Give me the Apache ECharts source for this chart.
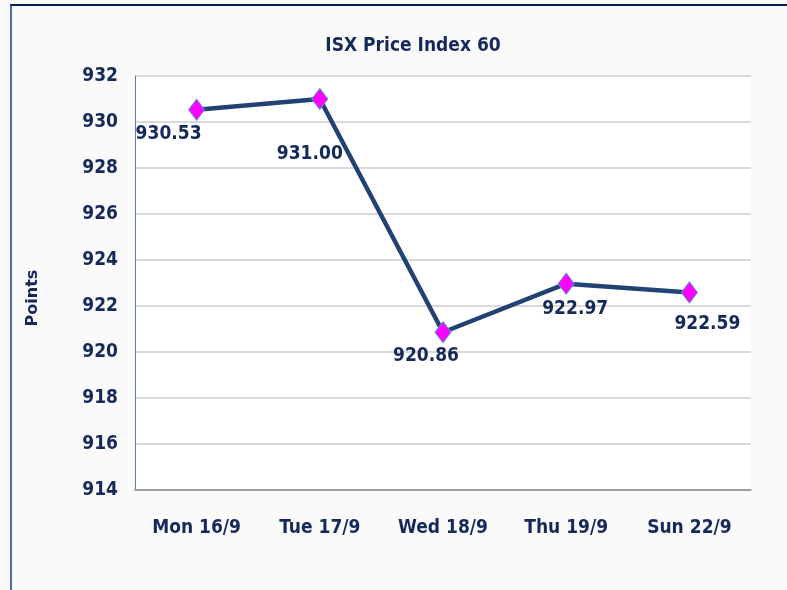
<!DOCTYPE html>
<html>
<head>
<meta charset="utf-8">
<script src="https://cdn.jsdelivr.net/npm/echarts@6/dist/echarts.min.js"></script>
<style>
  html, body { margin: 0; padding: 0; background: #fafafa; }
  #chart { width: 787px; height: 590px; }
</style>
</head>
<body>
<div id="chart"></div>
<script>
const categories = ["Mon 16/9", "Tue 17/9", "Wed 18/9", "Thu 19/9", "Sun 22/9"]
const values = [930.53, 931.0, 920.86, 922.97, 922.59]
// where each value label sits relative to its point
const labelOffsets = [[-28, 24], [-10, 55], [-17, 24], [9, 25], [18, 32]]

const navy = "#15295a"
const font = "'DejaVu Sans Condensed', 'Liberation Sans Narrow', sans-serif"

const chart = echarts.init(document.getElementById("chart"), null, { renderer: "canvas" })

const option = {
    backgroundColor: "#fafafa",
    animation: false,
    title: {
        text: "ISX Price Index 60",
        left: 408,
        top: 32,
        textAlign: "center",
        textStyle: { color: navy, fontFamily: font, fontSize: 19, fontWeight: "bold" },
    },
    graphic: [
        { type: "line", shape: { x1: 10, y1: 5, x2: 787, y2: 5 }, style: { stroke: "#0b1f5c", lineWidth: 2 } },
        { type: "line", shape: { x1: 11, y1: 4, x2: 11, y2: 590 }, style: { stroke: "#1c3a8a", lineWidth: 1.5 } },
    ],
    grid: {
        left: 135,
        top: 76,
        right: 36,
        bottom: 100,
        show: true,
        backgroundColor: "#ffffff",
        borderWidth: 0,
    },
    xAxis: {
        type: "category",
        data: categories,
        boundaryGap: true,
        axisLine: { lineStyle: { color: "#8c8c8c", width: 1.5 } },
        axisTick: { show: false },
        axisLabel: {
            color: navy,
            fontFamily: font,
            fontSize: 19,
            fontWeight: "bold",
            margin: 29,
        },
    },
    yAxis: {
        type: "value",
        min: 914,
        max: 932,
        interval: 2,
        name: "Points",
        nameLocation: "middle",
        nameRotate: 90,
        nameGap: 94,
        nameTextStyle: {
            color: navy,
            fontFamily: "'DejaVu Sans', sans-serif",
            fontSize: 16,
            fontWeight: "bold",
            padding: [0, 30, 0, 0],
        },
        axisLine: { show: true, lineStyle: { color: "#5b7cc4", width: 1 } },
        axisTick: { show: false },
        splitLine: { lineStyle: { color: "#d9d9d9", width: 2 } },
        axisLabel: {
            color: navy,
            fontFamily: font,
            fontSize: 19,
            fontWeight: "bold",
            margin: 17,
        },
    },
    series: [
        {
            type: "line",
            data: values.map((v, i) => ({
                value: v,
                label: { offset: labelOffsets[i] },
            })),
            lineStyle: { color: "#234274", width: 4.5 },
            symbol: "diamond",
            symbolSize: [16, 21],
            itemStyle: { color: "#ff00ff", borderColor: "#5b8fd0", borderWidth: 1 },
            label: {
                show: true,
                position: "inside",
                formatter: (p) => p.value.toFixed(2),
                color: navy,
                fontFamily: font,
                fontSize: 19,
                fontWeight: "bold",
            },
            z: 3,
        },
    ],
}
chart.setOption(option)
</script>
</body>
</html>
